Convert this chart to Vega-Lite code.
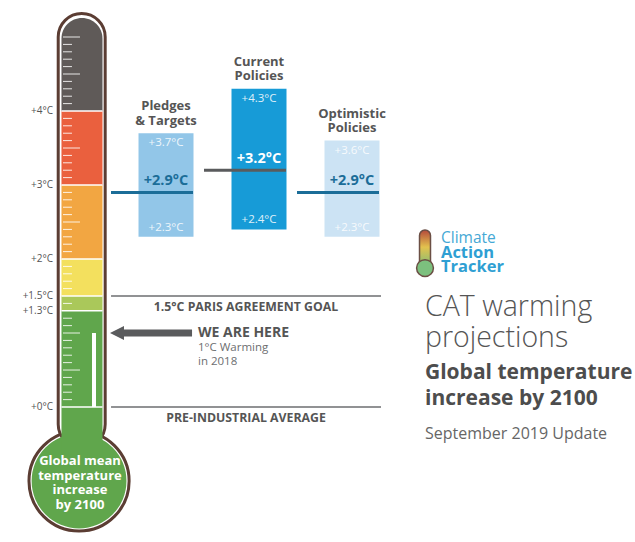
{
"$schema":"https://vega.github.io/schema/vega-lite/v6.json",
"width":635,"height":542,
"autosize":{"type":"fit","contains":"padding"},
"padding":0,
"background":"white",
"config":{"view":{"stroke":null},"font":"Open Sans","text":{"font":"Open Sans"}},
"datasets":{
"zones":[
{"zone":"above 4°C","lo":4,"hi":5.257},
{"zone":"3–4°C","lo":3,"hi":4},
{"zone":"2–3°C","lo":2,"hi":3},
{"zone":"1.5–2°C","lo":1.5,"hi":2},
{"zone":"1.3–1.5°C","lo":1.3,"hi":1.5},
{"zone":"below 1.3°C","lo":-0.7,"hi":1.3}],
"levels":[{"t":0,"label":"+0°C"},{"t":1.3,"label":"+1.3°C"},{"t":1.5,"label":"+1.5°C"},{"t":2,"label":"+2°C"},{"t":3,"label":"+3°C"},{"t":4,"label":"+4°C"}],
"minor":[{"t":0.1},{"t":0.2},{"t":0.3},{"t":0.4},{"t":0.6},{"t":0.7},{"t":0.8},{"t":0.9},{"t":1.1},{"t":1.2},{"t":1.4},{"t":1.6},{"t":1.7},{"t":1.8},{"t":1.9},{"t":2.1},{"t":2.2},{"t":2.3},{"t":2.4},{"t":2.6},{"t":2.7},{"t":2.8},{"t":2.9},{"t":3.1},{"t":3.2},{"t":3.3},{"t":3.4},{"t":3.6},{"t":3.7},{"t":3.8},{"t":3.9},{"t":4.1},{"t":4.2},{"t":4.3},{"t":4.4},{"t":4.6},{"t":4.7},{"t":4.8},{"t":4.9}],
"major":[{"t":0.5},{"t":1.0},{"t":2.5},{"t":3.5},{"t":4.5},{"t":5.0}],
"scenarios":[
{"scenario":"Pledges & Targets","title":"Pledges\n& Targets","order":1,"low":2.3,"median":2.9,"high":3.7,"lowLabel":"+2.3°C","medianLabel":"+2.9°C","highLabel":"+3.7°C"},
{"scenario":"Current Policies","title":"Current\nPolicies","order":2,"low":2.4,"median":3.2,"high":4.3,"lowLabel":"+2.4°C","medianLabel":"+3.2°C","highLabel":"+4.3°C"},
{"scenario":"Optimistic Policies","title":"Optimistic\nPolicies","order":3,"low":2.3,"median":2.9,"high":3.6,"lowLabel":"+2.3°C","medianLabel":"+2.9°C","highLabel":"+3.6°C"}],
"refs":[{"level":1.5,"label":"1.5°C PARIS AGREEMENT GOAL"},{"level":0,"label":"PRE-INDUSTRIAL AVERAGE"}],
"now":[{"label":"WE ARE HERE","value":1.0,"base":0,"note":"1°C Warming\nin 2018"}]
},
"data":{"values":[{"caption":"Global mean\ntemperature\nincrease\nby 2100"}]},
"layer":[
{"mark":{"type":"point","shape":"circle","filled":true,"fill":"white","stroke":"#5b3d33","strokeWidth":3,"size":10029,"opacity":1},
 "encoding":{"x":{"datum":0.065,"type":"quantitative","scale":{"domain":[-0.785,6.043],"nice":false,"zero":false},"axis":null},
 "y":{"datum":-1.0,"type":"quantitative","scale":{"domain":[-1.824,5.5],"nice":false,"zero":false},"axis":null}}},
{"mark":{"type":"rect","fill":"white","stroke":"#5b3d33","strokeWidth":3,"cornerRadius":23.5},
 "encoding":{"x":{"datum":-0.159,"type":"quantitative","scale":{"domain":[-0.785,6.043],"nice":false,"zero":false},"axis":null},"x2":{"datum":0.346},
 "y":{"datum":-0.55,"type":"quantitative","scale":{"domain":[-1.824,5.5],"nice":false,"zero":false},"axis":null},"y2":{"datum":5.318}}},
{"mark":{"type":"point","shape":"circle","filled":true,"fill":"#60a64c","strokeWidth":0,"size":8992,"opacity":1},
 "encoding":{"x":{"datum":0.065,"type":"quantitative","scale":{"domain":[-0.785,6.043],"nice":false,"zero":false},"axis":null},
 "y":{"datum":-1.0,"type":"quantitative","scale":{"domain":[-1.824,5.5],"nice":false,"zero":false},"axis":null}}},
{"data":{"name":"zones"},"transform":[{"filter":"datum.lo < 4"}],
 "mark":{"type":"rect"},
 "encoding":{"x":{"datum":-0.124,"type":"quantitative","scale":{"domain":[-0.785,6.043],"nice":false,"zero":false},"axis":null},"x2":{"datum":0.317},
 "y":{"field":"lo","type":"quantitative","scale":{"domain":[-1.824,5.5],"nice":false,"zero":false},"axis":null},"y2":{"field":"hi"},
 "color":{"field":"zone","type":"nominal","legend":null,"scale":{"domain":["above 4°C","3–4°C","2–3°C","1.5–2°C","1.3–1.5°C","below 1.3°C","Pledges & Targets","Current Policies","Optimistic Policies"],"range":["#5f5a58","#ea603e","#f2a642","#f3e05e","#aac85a","#60a64c","#1b6d98","#ffffff","#1b6d98"]}}}},
{"data":{"name":"zones"},"transform":[{"filter":"datum.lo >= 4"}],
 "mark":{"type":"rect","cornerRadiusTopLeft":20.5,"cornerRadiusTopRight":20.5},
 "encoding":{"x":{"datum":-0.124,"type":"quantitative","scale":{"domain":[-0.785,6.043],"nice":false,"zero":false},"axis":null},"x2":{"datum":0.317},
 "y":{"field":"lo","type":"quantitative","scale":{"domain":[-1.824,5.5],"nice":false,"zero":false},"axis":null},"y2":{"field":"hi"},
 "color":{"field":"zone","type":"nominal","legend":null,"scale":{"domain":["above 4°C","3–4°C","2–3°C","1.5–2°C","1.3–1.5°C","below 1.3°C","Pledges & Targets","Current Policies","Optimistic Policies"],"range":["#5f5a58","#ea603e","#f2a642","#f3e05e","#aac85a","#60a64c","#1b6d98","#ffffff","#1b6d98"]}}}},
{"data":{"name":"levels"},"mark":{"type":"rule","stroke":"white","strokeWidth":1.5},
 "encoding":{"x":{"datum":-0.124,"type":"quantitative","scale":{"domain":[-0.785,6.043],"nice":false,"zero":false},"axis":null},"x2":{"datum":0.317},
 "y":{"field":"t","type":"quantitative","scale":{"domain":[-1.824,5.5],"nice":false,"zero":false},"axis":null}}},
{"data":{"name":"minor"},"mark":{"type":"rule","stroke":"white","strokeWidth":1,"opacity":0.85},
 "encoding":{"x":{"datum":-0.1075,"type":"quantitative","scale":{"domain":[-0.785,6.043],"nice":false,"zero":false},"axis":null},"x2":{"datum":-0.011},
 "y":{"field":"t","type":"quantitative","scale":{"domain":[-1.824,5.5],"nice":false,"zero":false},"axis":null}}},
{"data":{"name":"major"},"mark":{"type":"rule","stroke":"white","strokeWidth":1,"opacity":0.85},
 "encoding":{"x":{"datum":-0.1075,"type":"quantitative","scale":{"domain":[-0.785,6.043],"nice":false,"zero":false},"axis":null},"x2":{"datum":0.075},
 "y":{"field":"t","type":"quantitative","scale":{"domain":[-1.824,5.5],"nice":false,"zero":false},"axis":null}}},
{"data":{"name":"now"},"mark":{"type":"rect","fill":"white"},
 "encoding":{"x":{"datum":0.204,"type":"quantitative","scale":{"domain":[-0.785,6.043],"nice":false,"zero":false},"axis":null},"x2":{"datum":0.247},
 "y":{"field":"base","type":"quantitative","scale":{"domain":[-1.824,5.5],"nice":false,"zero":false},"axis":null},"y2":{"field":"value"}}},
{"data":{"name":"levels"},"mark":{"type":"text","align":"right","baseline":"middle","fontSize":10,"fill":"#555555"},
 "encoding":{"x":{"datum":-0.215,"type":"quantitative","scale":{"domain":[-0.785,6.043],"nice":false,"zero":false},"axis":null},
 "y":{"field":"t","type":"quantitative","scale":{"domain":[-1.824,5.5],"nice":false,"zero":false},"axis":null},
 "text":{"field":"label"}}},
{"mark":{"type":"text","align":"center","baseline":"top","lineBreak":"\n","lineHeight":14.5,"fontSize":13,"fontWeight":"bold","fill":"white"},
 "encoding":{"x":{"datum":0.075,"type":"quantitative","scale":{"domain":[-0.785,6.043],"nice":false,"zero":false},"axis":null},
 "y":{"datum":-0.649,"type":"quantitative","scale":{"domain":[-1.824,5.5],"nice":false,"zero":false},"axis":null},
 "text":{"field":"caption"}}},
{"data":{"name":"refs"},"mark":{"type":"rule","stroke":"#6d6e70","strokeWidth":1.5},
 "encoding":{"x":{"datum":0.409,"type":"quantitative","scale":{"domain":[-0.785,6.043],"nice":false,"zero":false},"axis":null},"x2":{"datum":3.312},
 "y":{"field":"level","type":"quantitative","scale":{"domain":[-1.824,5.5],"nice":false,"zero":false},"axis":null}}},
{"data":{"name":"refs"},"mark":{"type":"text","align":"center","baseline":"middle","dy":11,"fontSize":12.3,"fontWeight":"bold","fill":"#555555"},
 "encoding":{"x":{"datum":1.86,"type":"quantitative","scale":{"domain":[-0.785,6.043],"nice":false,"zero":false},"axis":null},
 "y":{"field":"level","type":"quantitative","scale":{"domain":[-1.824,5.5],"nice":false,"zero":false},"axis":null},
 "text":{"field":"label"}}},
{"data":{"name":"scenarios"},"mark":{"type":"rect","xOffset":-27.5,"x2Offset":27.5},
 "encoding":{"x":{"field":"order","type":"quantitative","scale":{"domain":[-0.785,6.043],"nice":false,"zero":false},"axis":null},"x2":{"field":"order"},
 "y":{"field":"low","type":"quantitative","scale":{"domain":[-1.824,5.5],"nice":false,"zero":false},"axis":null},"y2":{"field":"high"},
 "fill":{"field":"scenario","type":"nominal","legend":null,"scale":{"domain":["Pledges & Targets","Current Policies","Optimistic Policies"],"range":["#92c6e8","#179bd7","#cce3f4"]}}}},
{"data":{"name":"scenarios"},"mark":{"type":"rule","strokeWidth":3,"xOffset":-55,"x2Offset":27},
 "encoding":{"x":{"field":"order","type":"quantitative","scale":{"domain":[-0.785,6.043],"nice":false,"zero":false},"axis":null},"x2":{"field":"order"},
 "y":{"field":"median","type":"quantitative","scale":{"domain":[-1.824,5.5],"nice":false,"zero":false},"axis":null},
 "stroke":{"field":"scenario","type":"nominal","legend":null,"scale":{"domain":["Pledges & Targets","Current Policies","Optimistic Policies"],"range":["#1b6d98","#5a5b5d","#1b6d98"]}}}},
{"data":{"name":"scenarios"},"mark":{"type":"text","align":"center","baseline":"middle","dy":10,"fontSize":11.5,"fill":"white","opacity":0.85},
 "encoding":{"x":{"field":"order","type":"quantitative","scale":{"domain":[-0.785,6.043],"nice":false,"zero":false},"axis":null},
 "y":{"field":"high","type":"quantitative","scale":{"domain":[-1.824,5.5],"nice":false,"zero":false},"axis":null},
 "text":{"field":"highLabel"}}},
{"data":{"name":"scenarios"},"mark":{"type":"text","align":"center","baseline":"middle","dy":-9,"fontSize":11.5,"fill":"white","opacity":0.85},
 "encoding":{"x":{"field":"order","type":"quantitative","scale":{"domain":[-0.785,6.043],"nice":false,"zero":false},"axis":null},
 "y":{"field":"low","type":"quantitative","scale":{"domain":[-1.824,5.5],"nice":false,"zero":false},"axis":null},
 "text":{"field":"lowLabel"}}},
{"data":{"name":"scenarios"},"mark":{"type":"text","align":"center","baseline":"middle","dy":-11,"fontSize":14.5,"fontWeight":"bold"},
 "encoding":{"x":{"field":"order","type":"quantitative","scale":{"domain":[-0.785,6.043],"nice":false,"zero":false},"axis":null},
 "y":{"field":"median","type":"quantitative","scale":{"domain":[-1.824,5.5],"nice":false,"zero":false},"axis":null},
 "text":{"field":"medianLabel"},
 "color":{"field":"scenario","type":"nominal","legend":null,"scale":{"domain":["above 4°C","3–4°C","2–3°C","1.5–2°C","1.3–1.5°C","below 1.3°C","Pledges & Targets","Current Policies","Optimistic Policies"],"range":["#5f5a58","#ea603e","#f2a642","#f3e05e","#aac85a","#60a64c","#1b6d98","#ffffff","#1b6d98"]}}}},
{"data":{"name":"scenarios"},"mark":{"type":"text","align":"center","baseline":"top","dy":-33,"lineBreak":"\n","lineHeight":14.5,"fontSize":13,"fontWeight":"bold","fill":"#555555"},
 "encoding":{"x":{"field":"order","type":"quantitative","scale":{"domain":[-0.785,6.043],"nice":false,"zero":false},"axis":null},
 "y":{"field":"high","type":"quantitative","scale":{"domain":[-1.824,5.5],"nice":false,"zero":false},"axis":null},
 "text":{"field":"title"}}},
{"data":{"name":"now"},"mark":{"type":"rule","stroke":"#5a5b5d","strokeWidth":7},
 "encoding":{"x":{"datum":0.527,"type":"quantitative","scale":{"domain":[-0.785,6.043],"nice":false,"zero":false},"axis":null},"x2":{"datum":1.28},
 "y":{"field":"value","type":"quantitative","scale":{"domain":[-1.824,5.5],"nice":false,"zero":false},"axis":null}}},
{"data":{"name":"now"},"mark":{"type":"point","shape":"M-1,0L1,-1L1,1Z","filled":true,"fill":"#5a5b5d","size":196,"opacity":1},
 "encoding":{"x":{"datum":0.473,"type":"quantitative","scale":{"domain":[-0.785,6.043],"nice":false,"zero":false},"axis":null},
 "y":{"field":"value","type":"quantitative","scale":{"domain":[-1.824,5.5],"nice":false,"zero":false},"axis":null}}},
{"data":{"name":"now"},"mark":{"type":"text","align":"left","baseline":"middle","fontSize":14,"fontWeight":"bold","fill":"#555555"},
 "encoding":{"x":{"datum":1.344,"type":"quantitative","scale":{"domain":[-0.785,6.043],"nice":false,"zero":false},"axis":null},
 "y":{"field":"value","type":"quantitative","scale":{"domain":[-1.824,5.5],"nice":false,"zero":false},"axis":null},
 "text":{"field":"label"}}},
{"data":{"name":"now"},"mark":{"type":"text","align":"left","baseline":"top","dy":9,"lineBreak":"\n","lineHeight":14,"fontSize":11.5,"fill":"#6d6e70"},
 "encoding":{"x":{"datum":1.344,"type":"quantitative","scale":{"domain":[-0.785,6.043],"nice":false,"zero":false},"axis":null},
 "y":{"field":"value","type":"quantitative","scale":{"domain":[-1.824,5.5],"nice":false,"zero":false},"axis":null},
 "text":{"field":"note"}}},
{"mark":{"type":"rect","stroke":"#6b4f45","strokeWidth":1.5,"cornerRadius":5.5,"color":{"gradient":"linear","x1":0,"y1":0,"x2":0,"y2":1,"stops":[{"offset":0,"color":"#b5493b"},{"offset":0.45,"color":"#e3c24e"},{"offset":1,"color":"#79bd7a"}]}},
 "encoding":{"x":{"datum":3.726,"type":"quantitative","scale":{"domain":[-0.785,6.043],"nice":false,"zero":false},"axis":null},"x2":{"datum":3.844},
 "y":{"datum":1.878,"type":"quantitative","scale":{"domain":[-1.824,5.5],"nice":false,"zero":false},"axis":null},"y2":{"datum":2.392}}},
{"mark":{"type":"point","shape":"circle","filled":true,"fill":"#7cc07e","stroke":"#6b4f45","strokeWidth":1.5,"size":283,"opacity":1},
 "encoding":{"x":{"datum":3.785,"type":"quantitative","scale":{"domain":[-0.785,6.043],"nice":false,"zero":false},"axis":null},
 "y":{"datum":1.878,"type":"quantitative","scale":{"domain":[-1.824,5.5],"nice":false,"zero":false},"axis":null}}},
{"mark":{"type":"text","align":"left","baseline":"alphabetic","fontSize":15.5,"fill":"#45a8d5","text":"Climate"},
 "encoding":{"x":{"datum":3.957,"type":"quantitative","scale":{"domain":[-0.785,6.043],"nice":false,"zero":false},"axis":null},
 "y":{"datum":2.216,"type":"quantitative","scale":{"domain":[-1.824,5.5],"nice":false,"zero":false},"axis":null}}},
{"mark":{"type":"text","align":"left","baseline":"alphabetic","fontSize":16.5,"fontWeight":"bold","lineBreak":"\n","lineHeight":14,"fill":"#2f9fd3","text":"Action\nTracker"},
 "encoding":{"x":{"datum":3.957,"type":"quantitative","scale":{"domain":[-0.785,6.043],"nice":false,"zero":false},"axis":null},
 "y":{"datum":2.014,"type":"quantitative","scale":{"domain":[-1.824,5.5],"nice":false,"zero":false},"axis":null}}},
{"mark":{"type":"text","align":"left","baseline":"alphabetic","fontSize":28.5,"fontWeight":300,"lineBreak":"\n","lineHeight":31,"fill":"#555555","text":"CAT warming\nprojections"},
 "encoding":{"x":{"datum":3.785,"type":"quantitative","scale":{"domain":[-0.785,6.043],"nice":false,"zero":false},"axis":null},
 "y":{"datum":1.23,"type":"quantitative","scale":{"domain":[-1.824,5.5],"nice":false,"zero":false},"axis":null}}},
{"mark":{"type":"text","align":"left","baseline":"alphabetic","fontSize":21,"fontWeight":"bold","lineBreak":"\n","lineHeight":26,"fill":"#4d4d4d","text":"Global temperature\nincrease by 2100"},
 "encoding":{"x":{"datum":3.785,"type":"quantitative","scale":{"domain":[-0.785,6.043],"nice":false,"zero":false},"axis":null},
 "y":{"datum":0.378,"type":"quantitative","scale":{"domain":[-1.824,5.5],"nice":false,"zero":false},"axis":null}}},
{"mark":{"type":"text","align":"left","baseline":"alphabetic","fontSize":16,"fill":"#666666","text":"September 2019 Update"},
 "encoding":{"x":{"datum":3.785,"type":"quantitative","scale":{"domain":[-0.785,6.043],"nice":false,"zero":false},"axis":null},
 "y":{"datum":-0.432,"type":"quantitative","scale":{"domain":[-1.824,5.5],"nice":false,"zero":false},"axis":null}}}
]
}
